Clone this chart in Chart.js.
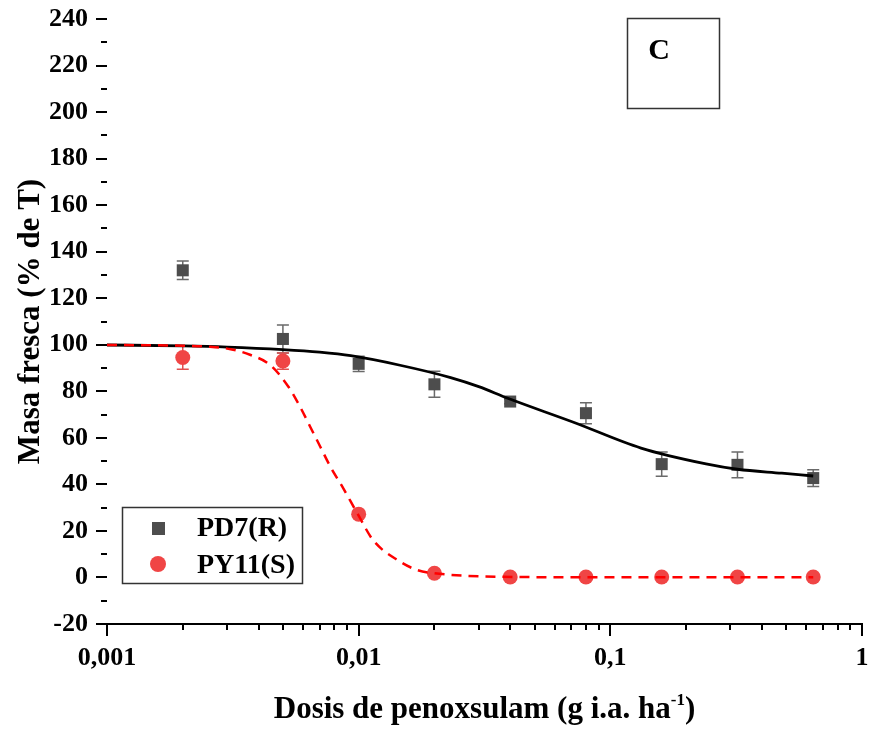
<!DOCTYPE html>
<html>
<head>
<meta charset="utf-8">
<script src="https://cdn.jsdelivr.net/npm/chart.js@4.4.1/dist/chart.umd.min.js"></script>
<style>
  html, body { margin: 0; padding: 0; background: #fff; }
</style>
</head>
<body>
<canvas id="chart" width="874" height="729"></canvas>
<script>
'use strict';

// ── Data ──────────────────────────────────────────────────────
const doses    = [0.002, 0.005, 0.01, 0.02, 0.04, 0.08, 0.16, 0.32, 0.64];
const pd7Mean  = [132, 102.5, 91.8, 83, 75.6, 70.6, 48.7, 48.4, 42.7];
const pd7Err   = [4, 6, 3.3, 5.6, 1, 4.5, 5.2, 5.5, 3.6];
const py11Mean = [94.5, 93, 27.2, 1.8, 0.2, 0.2, 0.2, 0.2, 0.2];
const py11Err  = [5, 3.5, 0, 0, 0, 0, 0, 0, 0];

// fitted curves
const pd7FitX  = [0.001, 0.002, 0.003, 0.005, 0.007, 0.0093, 0.0146, 0.0232, 0.03, 0.0389, 0.0718, 0.1324, 0.24, 0.32, 0.48, 0.64];
const pd7FitY  = [99.9, 99.5, 99, 97.9, 96.8, 95.3, 91.2, 85.9, 82, 77.1, 66.6, 55.6, 48.8, 46.5, 44.8, 43.6];
const py11FitX = [0.001, 0.002, 0.0025, 0.0031, 0.0037, 0.00444, 0.00525, 0.00584, 0.00641, 0.00703, 0.00771, 0.0086, 0.00996, 0.0114, 0.0146, 0.0171, 0.02, 0.0366, 0.08, 0.16, 0.32, 0.64];
const py11FitY = [99.9, 99.6, 99.2, 98.1, 95.7, 91.4, 82.1, 73.5, 64.9, 56.3, 47.7, 39.1, 26.9, 16.1, 6.8, 3.2, 1.8, 0.3, 0.1, 0.1, 0.1, 0.1];

const xMajor      = [0.001, 0.01, 0.1, 1];
const xTickLabels = ['0,001', '0,01', '0,1', '1'];
const yMin = -20, yMax = 240, yStep = 10, yLabelStep = 20;

const seriesNames = ['PD7(R)', 'PY11(S)'];

// ── Styles ────────────────────────────────────────────────────
const FONT   = 'Liberation Serif';
const GREY   = '#4d4d4d';
const RED    = '#f04545';
const ERRG   = '#6a6a6a';
const ERRR   = '#e05050';

// minor + major tick positions on the log axis
const xTickValues = [];
for (let e = -3; e < 0; e++) {
  for (let m = 1; m <= 9; m++) xTickValues.push(m * Math.pow(10, e));
}
xTickValues.push(1);

const isMajor = v => xMajor.some(m => Math.abs(v - m) / m < 1e-6);

const pts = (xs, ys) => xs.map((x, i) => ({ x, y: ys[i] }));

// no extra room for overhanging tick labels
const noOverhang = s => {
  s.paddingTop = 0; s.paddingBottom = 0;
  s.paddingLeft = 0; s.paddingRight = 0;
};

// ── Extra drawing: error bars, axis, ticks, titles, legend, panel ─
const decorations = {
  id: 'decorations',
  beforeDatasetsDraw(chart) {
    const { ctx, scales: { x, y } } = chart;
    const bars = [[pd7Mean, pd7Err, ERRG], [py11Mean, py11Err, ERRR]];
    ctx.save();
    ctx.lineWidth = 1.5;
    bars.forEach(([mean, err, col]) => {
      ctx.strokeStyle = col;
      doses.forEach((d, i) => {
        if (!err[i]) return;
        const px = x.getPixelForValue(d);
        const y1 = y.getPixelForValue(mean[i] + err[i]);
        const y2 = y.getPixelForValue(mean[i] - err[i]);
        ctx.beginPath();
        ctx.moveTo(px, y1); ctx.lineTo(px, y2);
        ctx.moveTo(px - 6, y1); ctx.lineTo(px + 6, y1);
        ctx.moveTo(px - 6, y2); ctx.lineTo(px + 6, y2);
        ctx.stroke();
      });
    });
    ctx.restore();
  },
  afterDraw(chart) {
    const { ctx, chartArea: a, scales: { x, y } } = chart;
    ctx.save();
    ctx.strokeStyle = '#000';
    ctx.lineWidth = 2;

    // x axis line + ticks
    ctx.beginPath();
    ctx.moveTo(a.left, a.bottom); ctx.lineTo(a.right + 1, a.bottom);
    x.ticks.forEach(t => {
      const px = Math.round(x.getPixelForValue(t.value));
      ctx.moveTo(px, a.bottom);
      ctx.lineTo(px, a.bottom + (isMajor(t.value) ? 12 : 6));
    });
    // y ticks (no axis line in the original)
    y.ticks.forEach(t => {
      const py = Math.round(y.getPixelForValue(t.value));
      const major = t.value % yLabelStep === 0;
      ctx.moveTo(a.left - (major ? 11 : 6), py);
      ctx.lineTo(a.left, py);
    });
    ctx.stroke();

    // axis titles
    ctx.fillStyle = '#000';
    ctx.textBaseline = 'middle';
    ctx.save();
    ctx.translate(31, (a.top + a.bottom) / 2);
    ctx.rotate(-Math.PI / 2);
    ctx.textAlign = 'center';
    ctx.font = `bold 31px "${FONT}"`;
    ctx.fillText('Masa fresca (% de T)', 0, 0);
    ctx.restore();

    const main = 'Dosis de penoxsulam (g i.a. ha';
    const sup  = '-1';
    const tail = ')';
    ctx.font = `bold 31px "${FONT}"`;
    const wMain = ctx.measureText(main).width;
    const wTail = ctx.measureText(tail).width;
    ctx.font = `bold 17px "${FONT}"`;
    const wSup = ctx.measureText(sup).width;
    let tx = (a.left + a.right) / 2 - (wMain + wSup + wTail) / 2;
    const ty = 710;
    ctx.textAlign = 'left';
    ctx.font = `bold 31px "${FONT}"`;
    ctx.fillText(main, tx, ty);
    tx += wMain;
    ctx.font = `bold 17px "${FONT}"`;
    ctx.fillText(sup, tx, ty - 9);
    tx += wSup;
    ctx.font = `bold 31px "${FONT}"`;
    ctx.fillText(tail, tx, ty);

    // legend
    ctx.lineWidth = 1.5;
    ctx.strokeStyle = '#333';
    ctx.strokeRect(122.5, 507.5, 180, 76);
    ctx.fillStyle = GREY;
    ctx.fillRect(152, 522, 13, 13);
    ctx.fillStyle = RED;
    ctx.beginPath();
    ctx.arc(158, 564, 8, 0, Math.PI * 2);
    ctx.fill();
    ctx.fillStyle = '#000';
    ctx.font = `bold 28px "${FONT}"`;
    ctx.textAlign = 'left';
    ctx.fillText(seriesNames[0], 197, 529);
    ctx.fillText(seriesNames[1], 197, 566);

    // panel label
    ctx.strokeRect(627.5, 18.5, 92, 90);
    ctx.font = `bold 30px "${FONT}"`;
    ctx.textAlign = 'center';
    ctx.fillText('C', 659, 51);

    ctx.restore();
  }
};

new Chart(document.getElementById('chart'), {
  type: 'scatter',
  data: {
    datasets: [
      {
        label: 'PY11 fit', data: pts(py11FitX, py11FitY), showLine: true,
        borderColor: '#ff0000', borderWidth: 2.5, borderDash: [10, 7],
        pointRadius: 0, cubicInterpolationMode: 'monotone'
      },
      {
        label: 'PD7 fit', data: pts(pd7FitX, pd7FitY), showLine: true,
        borderColor: '#000', borderWidth: 2.8,
        pointRadius: 0, cubicInterpolationMode: 'monotone'
      },
      {
        label: seriesNames[1], data: pts(doses, py11Mean),
        pointStyle: 'circle', pointRadius: 7.5,
        backgroundColor: RED, borderColor: RED, borderWidth: 0
      },
      {
        label: seriesNames[0], data: pts(doses, pd7Mean),
        pointStyle: 'rect', pointRadius: 8.5,
        backgroundColor: GREY, borderColor: GREY, borderWidth: 0
      }
    ]
  },
  options: {
    responsive: false,
    animation: false,
    devicePixelRatio: 1,
    layout: { padding: { top: 19, right: 12, left: 0, bottom: 0 } },
    plugins: { legend: { display: false }, tooltip: { enabled: false } },
    scales: {
      x: {
        type: 'logarithmic', position: 'bottom', min: 0.001, max: 1,
        afterFit: s => { s.height = 105; noOverhang(s); },
        afterBuildTicks: s => { s.ticks = xTickValues.map(v => ({ value: v })); },
        grid: { display: false, drawTicks: false },
        border: { display: false },
        ticks: {
          autoSkip: false, maxRotation: 0, padding: 19, color: '#000',
          font: { family: FONT, weight: 'bold', size: 26 },
          callback: v => {
            const i = xMajor.findIndex(m => Math.abs(v - m) / m < 1e-6);
            return i >= 0 ? xTickLabels[i] : '';
          }
        }
      },
      y: {
        min: yMin, max: yMax,
        afterFit: s => { s.width = 107; noOverhang(s); },
        grid: { display: false, drawTicks: false },
        border: { display: false },
        ticks: {
          stepSize: yStep, autoSkip: false, padding: 19, color: '#000',
          font: { family: FONT, weight: 'bold', size: 26 },
          callback: v => (v % yLabelStep === 0 ? v : '')
        }
      }
    }
  },
  plugins: [decorations]
});
</script>
</body>
</html>
